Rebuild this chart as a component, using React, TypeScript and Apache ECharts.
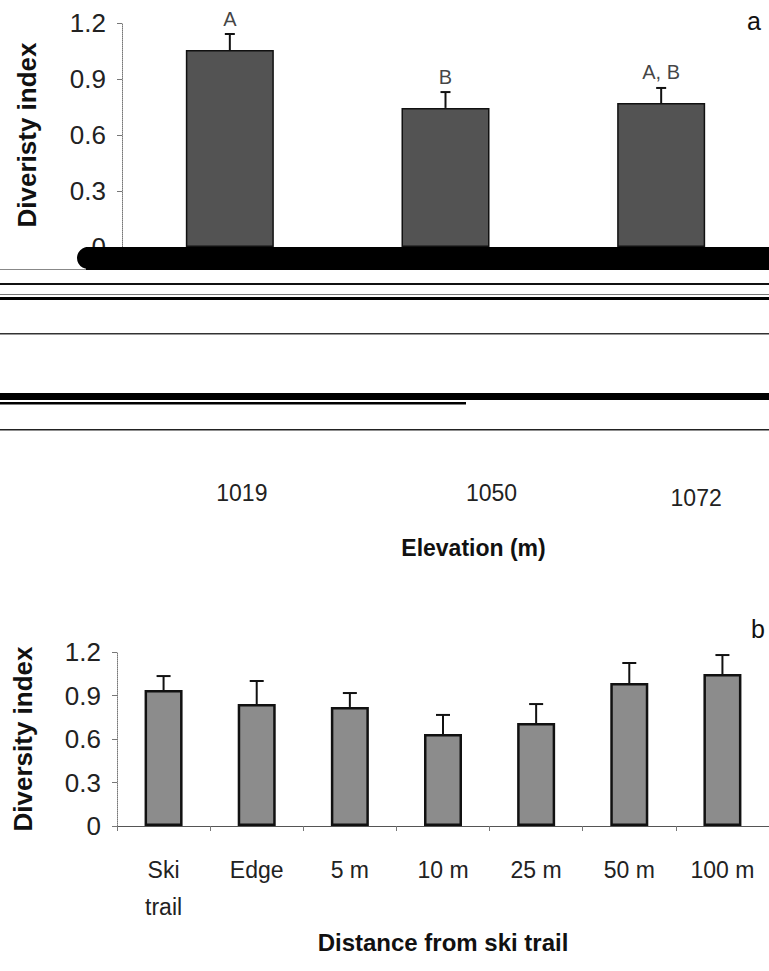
import React, { useEffect, useRef } from "react";
import * as echarts from "echarts";

// ---- Panel a data ----
const elevationCategories = ["1019", "1050", "1072"];
const elevationMeans = [1.055, 0.745, 0.771];
const elevationErrTops = [1.141, 0.83, 0.852];
const elevationLetters = ["A", "B", "A, B"];

// ---- Panel b data ----
const distanceCategories = ["Ski\ntrail", "Edge", "5 m", "10 m", "25 m", "50 m", "100 m"];
const distanceMeans = [0.938, 0.841, 0.821, 0.634, 0.71, 0.986, 1.048];
const distanceErrTops = [1.034, 1.0, 0.917, 0.766, 0.841, 1.124, 1.179];

// shared y axis ticks
const yMin = 0;
const yMax = 1.2;
const yStep = 0.3;

// per-label horizontal/vertical nudges of the elevation labels (style)
const elevLabelPadLeft = [24, 92, 70];
const elevLabelPadTop = [0, 0, 5];

const FONT = "Liberation Sans, Arial, sans-serif";

function errorSeries(axisIndex: number, means: number[], tops: number[], capHalf: number, lw: number) {
  return {
    type: "custom",
    xAxisIndex: axisIndex,
    yAxisIndex: axisIndex,
    data: means.map((m, i) => [i, m, tops[i]]),
    encode: { x: 0, y: [1, 2] },
    z: 4,
    renderItem: (_params: any, api: any) => {
      const base = api.coord([api.value(0), api.value(1)]);
      const top = api.coord([api.value(0), api.value(2)]);
      return {
        type: "group",
        children: [
          { type: "line", shape: { x1: base[0], y1: base[1], x2: top[0], y2: top[1] }, style: { stroke: "#111", lineWidth: lw } },
          { type: "line", shape: { x1: top[0] - capHalf, y1: top[1], x2: top[0] + capHalf, y2: top[1] }, style: { stroke: "#111", lineWidth: lw } },
        ],
      };
    },
  };
}

function yAxisCfg(gridIndex: number, name: string, nameGap: number) {
  return {
    type: "value",
    gridIndex,
    min: yMin,
    max: yMax,
    interval: yStep,
    name,
    nameLocation: "middle",
    nameRotate: 90,
    nameGap,
    nameTextStyle: { fontFamily: FONT, fontSize: 26, fontWeight: "bold", color: "#111" },
    axisLine: { show: true, lineStyle: { color: "#777", width: 1, type: "dotted" } },
    axisTick: { show: true, length: 5, lineStyle: { color: "#777" } },
    splitLine: { show: false },
    axisLabel: {
      margin: 16,
      fontFamily: FONT,
      fontSize: 26,
      color: "#222",
      formatter: (v: number) => (v === 0 ? "0" : v.toFixed(1)),
    },
  };
}

export default function App() {
  const ref = useRef<HTMLDivElement>(null);

  useEffect(() => {
    if (!ref.current) return;
    const chart = echarts.init(ref.current, null, { renderer: "svg" });

    const rich: any = {};
    elevationCategories.forEach((_, i) => {
      rich["s" + i] = {
        fontFamily: FONT,
        fontSize: 23,
        color: "#222",
        padding: [elevLabelPadTop[i], 0, 0, elevLabelPadLeft[i]],
      };
    });

    const option: any = {
      animation: false,
      backgroundColor: "#fff",
      title: [
        { text: "a", left: 742, top: 3, textStyle: { fontFamily: FONT, fontSize: 25, fontWeight: "normal", color: "#111" } },
        { text: "b", left: 746, top: 611, textStyle: { fontFamily: FONT, fontSize: 25, fontWeight: "normal", color: "#111" } },
      ],
      grid: [
        { left: 122, top: 23, width: 651, height: 224 },
        { left: 117, top: 652, width: 652, height: 174 },
      ],
      xAxis: [
        {
          type: "category",
          gridIndex: 0,
          data: elevationCategories,
          name: "Elevation (m)",
          nameLocation: "middle",
          nameGap: 289,
          nameTextStyle: { fontFamily: FONT, fontSize: 23, fontWeight: "bold", color: "#111", padding: [0, 0, 0, 56] },
          axisLine: { show: false },
          axisTick: { show: false },
          axisLabel: {
            margin: 234,
            formatter: (v: string, i: number) => `{s${i}|${v}}`,
            rich,
          },
        },
        {
          type: "category",
          gridIndex: 1,
          data: distanceCategories,
          name: "Distance from ski trail",
          nameLocation: "middle",
          nameGap: 104,
          nameTextStyle: { fontFamily: FONT, fontSize: 24, fontWeight: "bold", color: "#111" },
          axisLine: { show: true, lineStyle: { color: "#555", width: 1 } },
          axisTick: { show: true, length: 5, lineStyle: { color: "#777" } },
          axisLabel: { margin: 25, fontFamily: FONT, fontSize: 23, lineHeight: 37, color: "#222" },
        },
      ],
      yAxis: [yAxisCfg(0, "Diveristy index", 82), yAxisCfg(1, "Diversity index", 81)],
      series: [
        {
          type: "bar",
          xAxisIndex: 0,
          yAxisIndex: 0,
          data: elevationMeans,
          barWidth: 88,
          itemStyle: { color: "#535353", borderColor: "#111", borderWidth: 1.5 },
          z: 2,
        },
        errorSeries(0, elevationMeans, elevationErrTops, 5, 2),
        {
          type: "scatter",
          xAxisIndex: 0,
          yAxisIndex: 0,
          data: elevationErrTops,
          symbolSize: 1,
          itemStyle: { color: "rgba(0,0,0,0)" },
          label: {
            show: true,
            position: "top",
            distance: 5,
            fontFamily: FONT,
            fontSize: 20,
            color: "#111",
            formatter: (p: any) => elevationLetters[p.dataIndex],
          },
          z: 5,
        },
        {
          type: "bar",
          xAxisIndex: 1,
          yAxisIndex: 1,
          data: distanceMeans,
          barWidth: 38,
          itemStyle: { color: "#8c8c8c", borderColor: "#111", borderWidth: 2.5 },
          z: 2,
        },
        errorSeries(1, distanceMeans, distanceErrTops, 7, 2),
      ],
      graphic: [
        // scan artefacts across panel a's baseline and below it
        { type: "rect", z: 100, shape: { x: 86, y: 247, width: 700, height: 23 }, style: { fill: "#000" } },
        { type: "circle", z: 100, shape: { cx: 88, cy: 258, r: 11 }, style: { fill: "#000" } },
        { type: "rect", z: 100, shape: { x: 0, y: 269, width: 86, height: 1 }, style: { fill: "#888" } },
        { type: "rect", z: 100, shape: { x: 0, y: 283, width: 769, height: 2 }, style: { fill: "#111" } },
        { type: "rect", z: 100, shape: { x: 0, y: 294, width: 769, height: 1 }, style: { fill: "#777" } },
        { type: "rect", z: 100, shape: { x: 0, y: 297, width: 769, height: 3 }, style: { fill: "#000" } },
        { type: "rect", z: 100, shape: { x: 0, y: 333, width: 769, height: 1.5 }, style: { fill: "#333" } },
        { type: "rect", z: 100, shape: { x: 0, y: 393, width: 769, height: 7 }, style: { fill: "#000" } },
        { type: "rect", z: 100, shape: { x: 0, y: 402, width: 466, height: 2.5 }, style: { fill: "#000" } },
        { type: "rect", z: 100, shape: { x: 0, y: 429, width: 769, height: 1.5 }, style: { fill: "#222" } },
      ],
    };

    chart.setOption(option);
    return () => chart.dispose();
  }, []);

  return (
    <div
      ref={ref}
      style={{ position: "absolute", left: 0, top: 0, width: 769, height: 971, background: "#fff" }}
    />
  );
}
